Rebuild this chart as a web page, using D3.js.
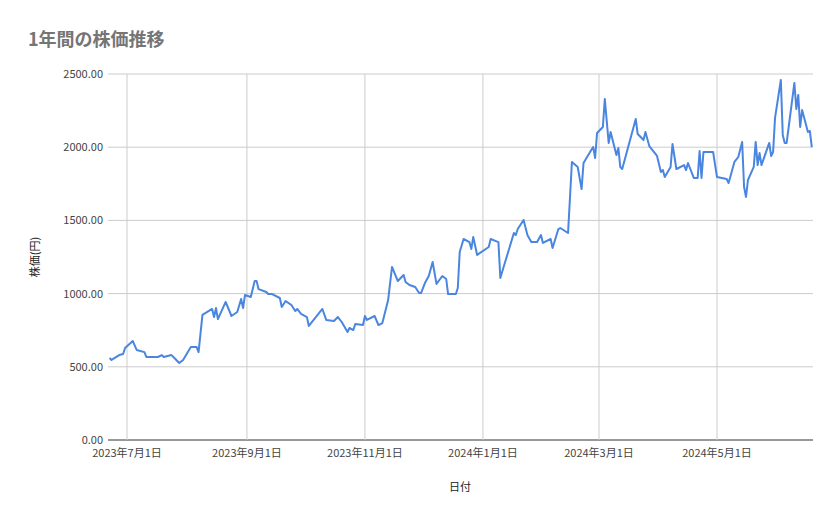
<!DOCTYPE html><html><head><meta charset="utf-8"><script src="https://cdn.jsdelivr.net/npm/d3@7"></script>
<style>body{margin:0;background:#fff}text{font-family:"Noto Sans CJK JP",Roboto,sans-serif}</style></head><body><svg id="c" width="839" height="519"></svg><script>
const dates=["2023-06-22","2023-06-23","2023-06-27","2023-06-29","2023-06-30","2023-07-04","2023-07-06","2023-07-10","2023-07-11","2023-07-17","2023-07-19","2023-07-20","2023-07-24","2023-07-26","2023-07-28","2023-07-30","2023-08-03","2023-08-06","2023-08-07","2023-08-09","2023-08-14","2023-08-15","2023-08-16","2023-08-17","2023-08-21","2023-08-24","2023-08-27","2023-08-29","2023-08-30","2023-08-31","2023-09-03","2023-09-05","2023-09-06","2023-09-07","2023-09-11","2023-09-12","2023-09-14","2023-09-18","2023-09-19","2023-09-21","2023-09-24","2023-09-26","2023-09-27","2023-09-29","2023-10-02","2023-10-03","2023-10-10","2023-10-12","2023-10-16","2023-10-18","2023-10-20","2023-10-23","2023-10-24","2023-10-26","2023-10-27","2023-10-31","2023-11-01","2023-11-02","2023-11-06","2023-11-08","2023-11-10","2023-11-13","2023-11-15","2023-11-18","2023-11-21","2023-11-22","2023-11-24","2023-11-27","2023-11-29","2023-11-30","2023-12-02","2023-12-04","2023-12-06","2023-12-08","2023-12-11","2023-12-13","2023-12-14","2023-12-18","2023-12-19","2023-12-20","2023-12-22","2023-12-25","2023-12-26","2023-12-27","2023-12-29","2024-01-04","2024-01-05","2024-01-09","2024-01-10","2024-01-12","2024-01-17","2024-01-18","2024-01-19","2024-01-22","2024-01-24","2024-01-26","2024-01-29","2024-01-31","2024-02-01","2024-02-05","2024-02-06","2024-02-09","2024-02-10","2024-02-14","2024-02-16","2024-02-19","2024-02-21","2024-02-22","2024-02-26","2024-02-27","2024-02-28","2024-02-29","2024-03-03","2024-03-04","2024-03-06","2024-03-07","2024-03-10","2024-03-11","2024-03-12","2024-03-13","2024-03-20","2024-03-21","2024-03-24","2024-03-25","2024-03-27","2024-03-31","2024-04-02","2024-04-03","2024-04-04","2024-04-07","2024-04-08","2024-04-10","2024-04-14","2024-04-15","2024-04-16","2024-04-19","2024-04-21","2024-04-22","2024-04-23","2024-04-24","2024-04-29","2024-05-01","2024-05-06","2024-05-07","2024-05-10","2024-05-12","2024-05-14","2024-05-15","2024-05-16","2024-05-17","2024-05-20","2024-05-21","2024-05-22","2024-05-23","2024-05-24","2024-05-28","2024-05-29","2024-05-30","2024-05-31","2024-06-03","2024-06-04","2024-06-05","2024-06-06","2024-06-10","2024-06-11","2024-06-12","2024-06-13","2024-06-14","2024-06-17","2024-06-18","2024-06-19"];
const prices=[560,547,580,587,628,676,615,600,567,567,580,567,580,553,526,547,635,635,600,854,895,840,901,826,943,847,874,963,901,990,977,1086,1086,1031,1011,997,997,970,908,949,922,881,895,861,840,779,895,820,813,840,806,738,765,751,792,785,847,820,847,785,799,956,1182,1086,1127,1079,1059,1045,1004,1004,1072,1120,1216,1066,1120,1100,997,997,1038,1284,1373,1352,1305,1387,1264,1318,1373,1352,1107,1195,1414,1400,1441,1503,1400,1352,1352,1400,1346,1373,1311,1441,1448,1414,1899,1865,1714,1892,1981,2001,1926,2097,2138,2329,2029,2104,1947,1995,1865,1851,2193,2090,2049,2104,2008,1940,1831,1844,1796,1865,2022,1851,1878,1844,1892,1790,1790,1974,1790,1967,1967,1796,1783,1755,1899,1933,2036,1728,1660,1776,1865,2036,1878,1960,1878,2029,1940,1967,2200,2459,2084,2029,2029,2439,2261,2357,2138,2254,2104,2111,2001];
const yTicks=[0,500,1000,1500,2000,2500];
const xTicks=["2023-07-01","2023-09-01","2023-11-01","2024-01-01","2024-03-01","2024-05-01"];
const xTickLabels=["2023年7月1日","2023年9月1日","2023年11月1日","2024年1月1日","2024年3月1日","2024年5月1日"];
const title="1年間の株価推移",yLabel="株価(円)",xLabel="日付";
const p=d3.timeParse("%Y-%m-%d");
const data=dates.map((d,i)=>({d:p(d),v:prices[i]}));
const svg=d3.select("#c");
const x=d3.scaleTime().domain([p("2023-07-01"),p("2024-05-01")]).range([127,717]);
const y=d3.scaleLinear().domain([0,2500]).range([440,74]);
const L=108,R=813;
svg.append("g").selectAll("line").data(yTicks).join("line").attr("x1",L).attr("x2",R).attr("y1",d=>y(d)).attr("y2",d=>y(d)).attr("stroke",d=>d===0?"#333":"#ccc").attr("stroke-width",1);
svg.append("g").selectAll("line").data(xTicks).join("line").attr("x1",d=>x(p(d))).attr("x2",d=>x(p(d))).attr("y1",74).attr("y2",440).attr("stroke","#ccc");
svg.append("g").selectAll("text").data(yTicks).join("text").attr("x",103).attr("y",d=>y(d)+4).attr("text-anchor","end").attr("font-size",11).attr("fill","#444").text(d=>d3.format(".2f")(d));
svg.append("g").selectAll("text").data(xTicks).join("text").attr("x",d=>x(p(d))).attr("y",457).attr("text-anchor","middle").attr("font-size",11).attr("fill","#444").text((d,i)=>xTickLabels[i]);
svg.append("defs").append("clipPath").attr("id","cp").append("rect").attr("x",L).attr("y",60).attr("width",R-L).attr("height",400);
svg.append("path").datum(data).attr("clip-path","url(#cp)").attr("fill","none").attr("stroke","#4a86e0").attr("stroke-width",2).attr("stroke-linejoin","round").attr("d",d3.line().x(d=>x(d.d)).y(d=>y(d.v)));
svg.append("text").attr("x",28).attr("y",46).attr("font-size",18).attr("fill","#757575").attr("font-weight","bold").text(title);
svg.append("text").attr("transform","translate(39,257) rotate(-90)").attr("text-anchor","middle").attr("font-size",11).attr("fill","#222").text(yLabel);
svg.append("text").attr("x",460).attr("y",491).attr("text-anchor","middle").attr("font-size",11).attr("fill","#222").text(xLabel);
</script></body></html>
